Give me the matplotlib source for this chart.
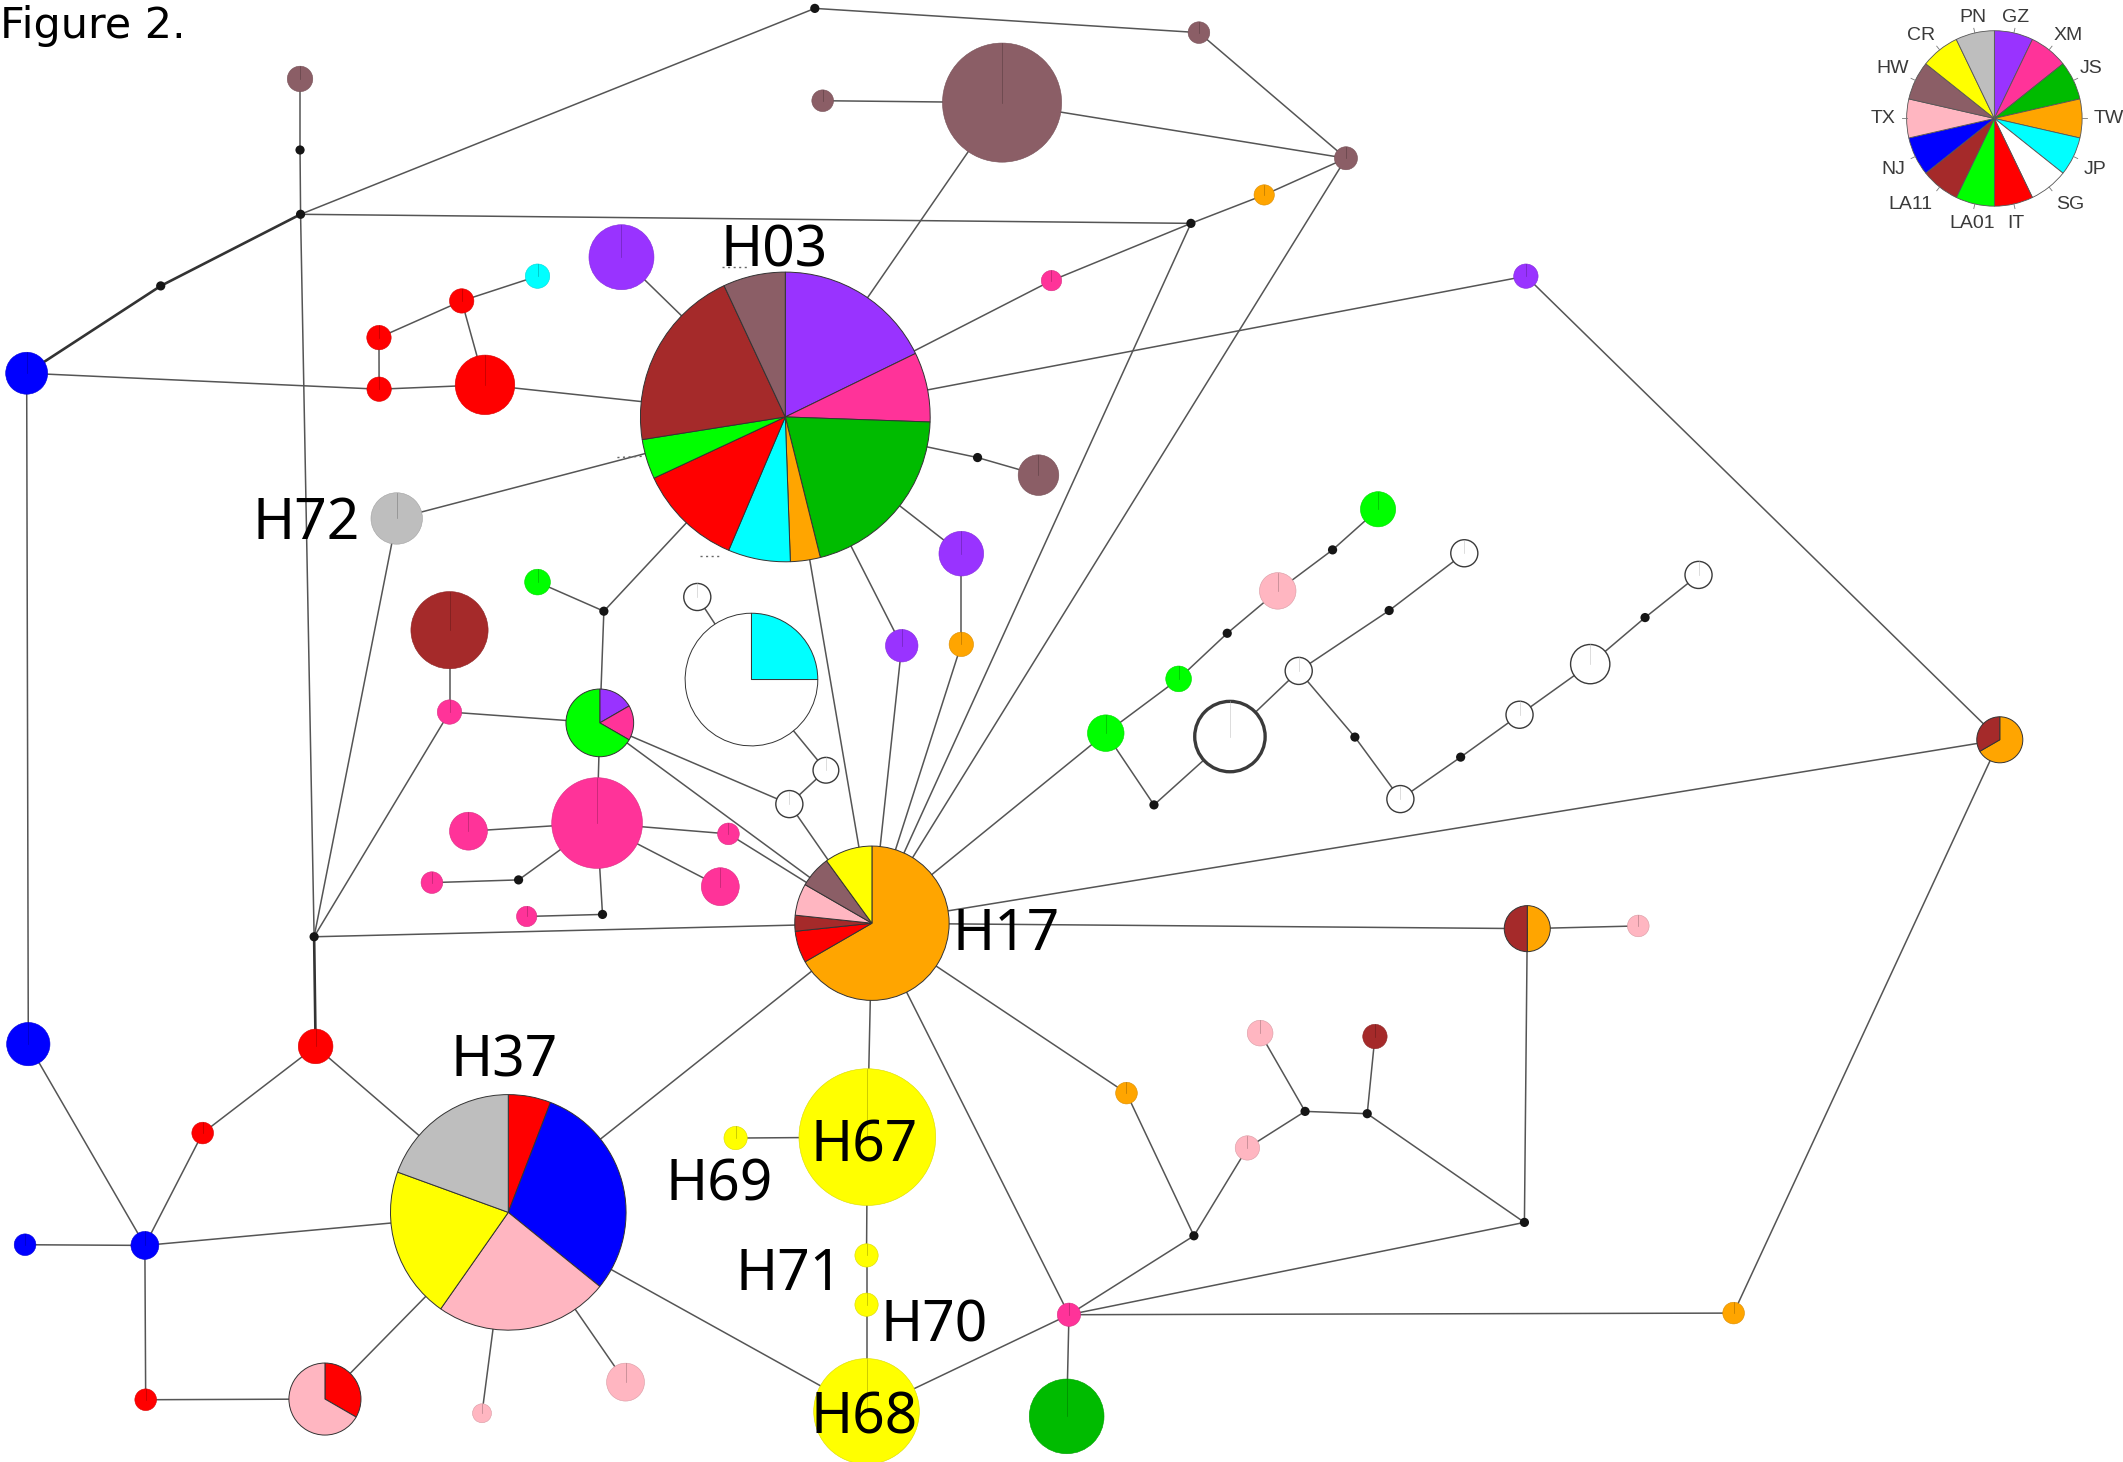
import numpy as np
import matplotlib.pyplot as plt
from matplotlib.patches import Wedge, Circle
from matplotlib import colors as mcolors

# populations, in the order used for every pie (clockwise from 12 o'clock)
POPS = ['GZ', 'XM', 'JS', 'TW', 'JP', 'SG', 'IT', 'LA01', 'LA11', 'NJ', 'TX', 'HW', 'CR', 'PN']
POP_COLORS = ['#9933FF', '#FF3399', '#00BB00', '#FFA500', '#00FFFF', '#FFFFFF', '#FF0000',
              '#00FF00', '#A52A2A', '#0000FF', '#FFB6C1', '#8B5E66', '#FFFF00', '#BEBEBE']
pop_color = dict(zip(POPS, POP_COLORS))

# haplotype composition (relative share of each population)
composition = {
    'H03': {'GZ': 64, 'XM': 28, 'JS': 74, 'TW': 12, 'JP': 25, 'IT': 42, 'LA01': 16, 'LA11': 74, 'HW': 25},
    'H17': {'TW': 20, 'IT': 2, 'LA11': 1, 'TX': 2, 'HW': 2, 'CR': 3},
    'H37': {'IT': 21, 'NJ': 108, 'TX': 86, 'CR': 75, 'PN': 70},
    'H67': 'CR', 'H68': 'CR', 'H69': 'CR', 'H70': 'CR', 'H71': 'CR', 'H72': 'PN',
    'P1': {'GZ': 1, 'XM': 1, 'LA01': 4},
    'P2': {'IT': 1, 'TX': 2},
    'SGJP': {'JP': 1, 'SG': 3},
    'TWLA1': {'TW': 1, 'LA11': 1},
    'TWLA2': {'TW': 2, 'LA11': 1},
    'HW1': 'HW', 'HW2': 'HW', 'HW3': 'HW', 'HW4': 'HW', 'HW5': 'HW', 'HW6': 'HW',
    'NJ1': 'NJ', 'NJ2': 'NJ', 'NJ3': 'NJ', 'NJ4': 'NJ',
    'TW1': 'TW', 'TW2': 'TW', 'TW3': 'TW', 'TW4': 'TW',
    'XM1': 'XM', 'XM2': 'XM', 'XM3': 'XM', 'XM4': 'XM', 'XM5': 'XM', 'XM6': 'XM', 'XM7': 'XM',
    'XM8': 'XM', 'XM9': 'XM',
    'GZ1': 'GZ', 'GZ2': 'GZ', 'GZ3': 'GZ', 'GZ4': 'GZ',
    'IT1': 'IT', 'IT2': 'IT', 'IT3': 'IT', 'IT4': 'IT', 'IT5': 'IT', 'IT6': 'IT', 'IT7': 'IT',
    'JP1': 'JP',
    'LA01a': 'LA01', 'LA01b': 'LA01', 'LA01c': 'LA01', 'LA01d': 'LA01',
    'LA11a': 'LA11', 'LA11b': 'LA11',
    'TX1': 'TX', 'TX2': 'TX', 'TX3': 'TX', 'TX4': 'TX', 'TX5': 'TX', 'TX6': 'TX',
    'JS1': 'JS',
    'SG1': 'SG', 'SG2': 'SG', 'SG3': 'SG', 'SG4': 'SG', 'SG5': 'SG', 'SG6': 'SG', 'SG7': 'SG',
    'SG8': 'SG', 'SG9': 'SG', 'SG10': 'SG',
}

# network layout: name -> (x, y, radius); radius 0 marks a median vector
layout = {
    'HW1': (221.6, 58.3, 9.4), 'mv1': (221.6, 110.8, 0), 'mv2': (222, 158.3, 0),
    'mv3': (118.7, 211.2, 0), 'NJ1': (19.7, 275.7, 15.5), 'mv4': (601.8, 6.2, 0),
    'HW2': (885.5, 24.1, 8), 'HW3': (607.6, 74.4, 8), 'HW4': (740.1, 75.8, 44),
    'HW5': (994.1, 116.9, 8.5), 'TW1': (933.7, 144, 7.5), 'mv5': (879.6, 165, 0),
    'XM1': (776.6, 207.3, 7.5), 'GZ1': (1127, 204, 9),
    'IT1': (279.9, 249.4, 9), 'IT2': (341, 222.3, 9), 'IT3': (280, 287.5, 9),
    'IT4': (358.2, 284.3, 22), 'JP1': (397, 204, 9), 'GZ2': (459, 190, 24),
    'H03': (580, 308, 107), 'H72': (293, 383, 19),
    'HW6': (767, 351, 15), 'mv6': (722, 338, 0), 'GZ3': (710, 409, 16.5),
    'TW2': (710, 476, 9), 'GZ4': (666, 477, 12),
    'mv7': (446, 451.5, 0), 'LA01a': (397, 430, 9.5), 'LA11a': (332, 465.5, 28.5),
    'XM2': (332, 526, 9), 'P1': (443, 534, 25), 'XM3': (441, 608, 33.5),
    'XM4': (346, 614, 14), 'XM5': (538, 616, 8), 'XM6': (532, 655, 14),
    'mv8': (383, 650, 0), 'XM7': (319, 652, 8), 'mv9': (445, 675.5, 0), 'XM8': (389, 677, 7.5),
    'SGJP': (555, 502, 49), 'SG1': (515, 441, 10), 'SG2': (610, 569, 9.5), 'SG3': (583, 594, 10),
    'H17': (644, 682, 57), 'mv10': (232, 692, 0),
    'LA01b': (816.7, 541.6, 13.5), 'mv11': (852.3, 594.6, 0), 'SG4': (908.4, 544.1, 26),
    'SG5': (959.2, 495.6, 10), 'mv12': (1026, 451, 0), 'SG6': (1081.5, 408.7, 10),
    'LA01c': (870.5, 501.5, 9.5), 'mv13': (906.4, 467.8, 0), 'TX1': (943.7, 436.5, 13.5),
    'mv14': (984.2, 406.2, 0), 'LA01d': (1017.8, 376.2, 13), 'mv15': (1000.7, 544.5, 0),
    'SG7': (1034.3, 590.3, 10), 'mv16': (1078.8, 559.3, 0), 'SG8': (1122.3, 528, 10),
    'SG9': (1174.5, 490.6, 14.5), 'mv17': (1215, 456.2, 0), 'SG10': (1254.5, 424.7, 10),
    'TWLA1': (1128, 686, 17), 'TX2': (1210, 684, 8), 'TWLA2': (1477, 546.5, 17),
    'H37': (375.4, 895.6, 87), 'IT5': (233.1, 773, 12.8), 'IT6': (149.7, 837, 8),
    'NJ2': (20.9, 771.3, 16), 'NJ3': (18.5, 919.5, 8), 'NJ4': (107, 920, 10.3),
    'IT7': (107.6, 1034, 8), 'P2': (240, 1033.5, 26.6), 'TX3': (356, 1044, 7),
    'TX4': (462, 1021, 14),
    'H67': (640.6, 840, 50.5), 'H69': (543.3, 840.7, 8.6), 'H71': (640, 927.4, 8.6),
    'H70': (640, 963.8, 8.6), 'H68': (640, 1042.6, 39),
    'XM9': (789.5, 971.2, 8.6), 'JS1': (787.8, 1046.3, 27.6), 'TW3': (832, 807.5, 8),
    'mv18': (881.8, 912.9, 0), 'TX5': (921.3, 848, 9), 'mv19': (963.9, 821, 0),
    'mv20': (1009.8, 822.7, 0), 'TX6': (930.7, 763.2, 9.5), 'LA11b': (1015.5, 765.7, 9),
    'mv21': (1125.9, 903, 0), 'TW4': (1280.4, 970, 8),
}

edges = [
    ('HW1', 'mv1'), ('mv1', 'mv2'), ('mv2', 'mv3'), ('mv3', 'NJ1'), ('mv2', 'mv4'),
    ('mv4', 'HW2'), ('HW2', 'HW5'), ('HW3', 'HW4'), ('HW4', 'HW5'), ('HW4', 'H03'),
    ('mv2', 'mv5'), ('mv5', 'TW1'), ('TW1', 'HW5'), ('mv5', 'XM1'), ('XM1', 'H03'),
    ('mv5', 'H17'), ('HW5', 'H17'), ('GZ1', 'H03'), ('GZ1', 'TWLA2'), ('mv2', 'mv10'),
    ('NJ1', 'IT3'), ('NJ1', 'NJ2'), ('IT3', 'IT1'), ('IT1', 'IT2'), ('IT2', 'IT4'),
    ('IT3', 'IT4'), ('IT2', 'JP1'), ('IT4', 'H03'), ('GZ2', 'H03'), ('H72', 'H03'),
    ('H72', 'mv10'), ('mv6', 'H03'), ('mv6', 'HW6'), ('GZ3', 'H03'), ('GZ3', 'TW2'),
    ('TW2', 'H17'), ('GZ4', 'H03'), ('GZ4', 'H17'), ('H03', 'H17'), ('H03', 'mv7'),
    ('mv7', 'LA01a'), ('mv7', 'P1'), ('P1', 'XM2'), ('XM2', 'LA11a'), ('XM2', 'mv10'),
    ('P1', 'XM3'), ('P1', 'SG3'), ('P1', 'H17'), ('XM5', 'H17'), ('XM3', 'XM4'),
    ('XM3', 'XM5'), ('XM3', 'XM6'), ('XM3', 'mv8'), ('mv8', 'XM7'), ('XM3', 'mv9'),
    ('mv9', 'XM8'), ('SGJP', 'SG1'), ('SGJP', 'SG2'), ('SG2', 'SG3'), ('SG3', 'H17'),
    ('mv10', 'H17'), ('mv10', 'IT5'), ('H17', 'LA01b'), ('H17', 'TWLA1'), ('TWLA1', 'TX2'),
    ('H17', 'TWLA2'), ('H17', 'H37'), ('H17', 'H67'), ('H17', 'TW3'), ('H17', 'XM9'),
    ('H67', 'H69'), ('H67', 'H71'), ('H71', 'H70'), ('H70', 'H68'), ('H37', 'H68'),
    ('H68', 'XM9'), ('XM9', 'JS1'), ('XM9', 'TW4'), ('TW4', 'TWLA2'), ('XM9', 'mv21'),
    ('mv21', 'TWLA1'), ('XM9', 'mv18'), ('TW3', 'mv18'), ('mv18', 'TX5'), ('TX5', 'mv19'),
    ('mv19', 'TX6'), ('mv19', 'mv20'), ('mv20', 'LA11b'), ('mv20', 'mv21'),
    ('H37', 'IT5'), ('IT5', 'IT6'), ('IT6', 'NJ4'), ('NJ2', 'NJ4'), ('NJ3', 'NJ4'),
    ('NJ4', 'H37'), ('NJ4', 'IT7'), ('IT7', 'P2'), ('P2', 'H37'), ('TX3', 'H37'), ('TX4', 'H37'),
    ('LA01b', 'mv11'), ('mv11', 'SG4'), ('SG4', 'SG5'), ('SG5', 'mv12'), ('mv12', 'SG6'),
    ('LA01b', 'LA01c'), ('LA01c', 'mv13'), ('mv13', 'TX1'), ('TX1', 'mv14'), ('mv14', 'LA01d'),
    ('SG5', 'mv15'), ('mv15', 'SG7'), ('SG7', 'mv16'), ('mv16', 'SG8'), ('SG8', 'SG9'),
    ('SG9', 'mv17'), ('mv17', 'SG10'),
]
heavy_edges = {('mv2', 'mv3'), ('mv3', 'NJ1'), ('mv10', 'IT5')}

# haplotype name tags: name -> (x, baseline y)
labels = {
    'H03': (572, 197), 'H72': (226, 398), 'H17': (743, 702), 'H37': (372, 795),
    'H67': (638, 858), 'H69': (531, 887), 'H71': (583, 953), 'H70': (690, 991), 'H68': (638, 1059),
}


def darker(c, f=0.72):
    return tuple(np.array(mcolors.to_rgb(c)) * f)


def draw_node(ax, x, y, r, comp, lw_edge=None):
    if isinstance(comp, str):
        comp = {comp: 1}
    items = [(p, comp[p]) for p in POPS if p in comp]
    total = float(sum(v for _, v in items))
    if len(items) == 1:
        col = pop_color[items[0][0]]
        if col == '#FFFFFF':
            ec, lw = '#3a3a3a', 1.0 if lw_edge is None else lw_edge
        else:
            ec, lw = darker(col, 0.85), 0.4
        ax.add_patch(Circle((x, y), r, fc=col, ec=ec, lw=lw, zorder=2))
        ax.plot([x, x], [y, y - r], color=darker(col, 0.6) if col != '#FFFFFF' else '#bbbbbb',
                lw=0.5, alpha=0.7, zorder=2.1)
        return
    a = 0.0
    for p, v in items:
        da = 360.0 * v / total
        # y axis runs downward, so increasing theta sweeps clockwise on screen
        ax.add_patch(Wedge((x, y), r, a - 90, a + da - 90, fc=pop_color[p],
                           ec='#333333', lw=0.7, zorder=2))
        a += da


fig = plt.figure(figsize=(21.23, 14.62), dpi=100)
ax = fig.add_axes([0, 0, 1, 1])
ax.set_xlim(0, 1568)
ax.set_ylim(1080, 0)
ax.axis('off')

for a, b in edges:
    xa, ya, _ = layout[a]
    xb, yb, _ = layout[b]
    heavy = (a, b) in heavy_edges
    ax.plot([xa, xb], [ya, yb], color='#333333' if heavy else '#555555',
            lw=1.9 if heavy else 1.1, zorder=1, solid_capstyle='round')

for name, (x, y, r) in layout.items():
    if r == 0:
        ax.add_patch(Circle((x, y), 3.4, fc='#151515', ec='none', zorder=3))
    else:
        draw_node(ax, x, y, r, composition[name], lw_edge=2.4 if name == 'SG4' else None)

# faint dotted remnants around the central haplotype
for seg in [((533, 197), (553, 197)), ((456, 338), (476, 337)), ((517, 411), (532, 411))]:
    ax.plot(*zip(*seg), color='#666666', lw=1.0, ls=(0, (1.5, 2.5)), zorder=1)

for name, (x, y) in labels.items():
    ax.text(x, y, name, fontsize=41, family='Noto Sans', ha='center', va='baseline',
            color='black', zorder=5)

ax.text(0, 28, 'Figure 2.', fontsize=31, family='DejaVu Sans', ha='left', va='baseline')

# population key
kx, ky, kr = 1473, 87.5, 64.8
step = 360.0 / len(POPS)
for i, (p, col) in enumerate(zip(POPS, POP_COLORS)):
    a0 = i * step
    ax.add_patch(Wedge((kx, ky), kr, a0 - 90, a0 + step - 90, fc=col, ec='#555555', lw=0.6, zorder=2))
    am = np.radians(a0 + step / 2)
    sx, sy = np.sin(am), -np.cos(am)
    ax.plot([kx + kr * sx, kx + (kr + 3.5) * sx], [ky + kr * sy, ky + (kr + 3.5) * sy],
            color='#777777', lw=0.6, zorder=2)
    lr = 70 if sy < -0.35 else 73
    ha = 'left' if sx > 0.35 else ('right' if sx < -0.35 else 'center')
    va = 'bottom' if sy < -0.35 else ('top' if sy > 0.35 else 'center')
    ax.text(kx + lr * sx, ky + lr * sy, p, fontsize=14, family='Liberation Sans',
            color='#3a3a3a', ha=ha, va=va, zorder=3)

fig.savefig('out.png', dpi=100)
